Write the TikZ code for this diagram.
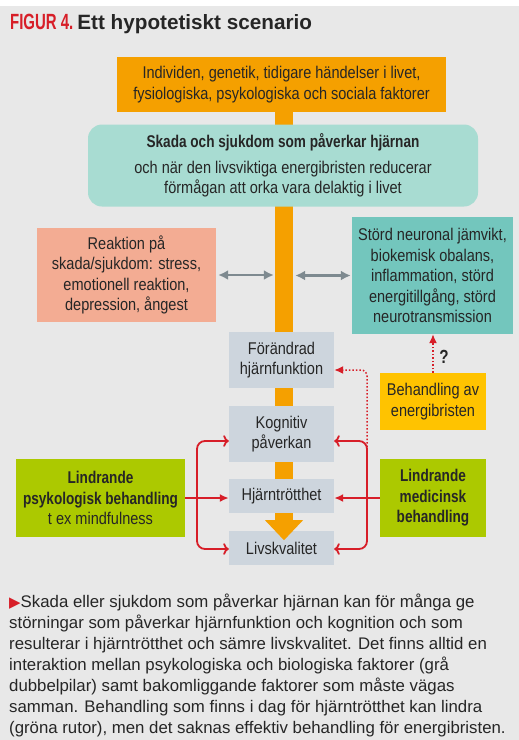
\documentclass[tikz,border=0pt]{standalone}
\usepackage{fontspec}
\setmainfont{Liberation Sans}
\newfontfamily\condfont[FakeStretch=0.855,BoldFeatures={FakeStretch=0.8}]{Liberation Sans}
\newfontfamily\figfont[FakeStretch=0.68]{Liberation Sans Bold}
\newfontfamily\symfont{DejaVu Sans}
\usetikzlibrary{arrows.meta}

\definecolor{bggray}{HTML}{E8E8E8}
\definecolor{barorange}{HTML}{F5A000}
\definecolor{tealL}{HTML}{A8DCD2}
\definecolor{tealD}{HTML}{73C6BD}
\definecolor{boxsalmon}{HTML}{F3AC93}
\definecolor{hubgray}{HTML}{CDD5DD}
\definecolor{boxyellow}{HTML}{FFC300}
\definecolor{boxgreen}{HTML}{ACC900}
\definecolor{arrowred}{HTML}{D71E28}
\definecolor{arrowgray}{HTML}{7E8A90}
\definecolor{txtdark}{HTML}{262626}

\tikzstyle{box}=[rectangle,inner sep=0pt,align=center,text=txtdark,font=\condfont\fontsize{17pt}{20.5pt}\selectfont]
\tikzstyle{hub}=[box,fill=hubgray,minimum width=105pt]
\tikzstyle{cure}=[box,fill=boxgreen,minimum height=78pt]
\tikzstyle{red arrow}=[draw,line width=1.8pt,arrowred,-{Latex[length=9pt,width=8pt]}]
\tikzstyle{red dots}=[draw,line width=1.5pt,arrowred,dotted,-{Latex[length=9pt,width=8pt]}]
\tikzstyle{gray arrow}=[draw,line width=2.5pt,arrowgray,{Latex[length=10pt,width=10pt]}-{Latex[length=10pt,width=10pt]},shorten <=2pt,shorten >=1pt]

\begin{document}
\begin{tikzpicture}[x=1pt,y=-1pt]
	\useasboundingbox (0,0) rectangle (519,740);
	\fill[white] (0,0) rectangle (519,740);
	\fill[bggray] (0,6) rectangle (519,740);
	% title
	\node[anchor=base west,inner sep=0pt,text=txtdark] (title) at (10,29)
		{{\figfont\fontsize{22pt}{22pt}\selectfont\color{arrowred}FIGUR 4.}\hspace{4pt}{\bfseries\fontsize{20.7pt}{22pt}\selectfont Ett hypotetiskt scenario}};
	% the orange stem behind the boxes
	\node[fill=barorange,minimum width=18pt,minimum height=408pt,inner sep=0pt] (stam) at (284,316) {};
	% boxes
	\node[box,fill=barorange,minimum width=329pt,minimum height=55pt] (indiv) at (281.5,84.5)
		{Individen, genetik, tidigare händelser i livet,\\fysiologiska, psykologiska och sociala faktorer};
	\node[box,fill=tealL,rounded corners=14pt,minimum width=390pt,minimum height=82pt] (skada) at (283,165.5)
		{\bfseries Skada och sjukdom som påverkar hjärnan\\[5pt]och när den livsviktiga energibristen reducerar\\förmågan att orka vara delaktig i livet};
	\node[box,fill=boxsalmon,minimum width=179pt,minimum height=94pt] (reak) at (126.5,275)
		{Reaktion på\\skada/sjukdom: stress,\\emotionell reaktion,\\depression, ångest};
	\node[box,fill=tealD,minimum width=161pt,minimum height=117pt] (stord) at (432.5,275.5)
		{Störd neuronal jämvikt,\\biokemisk obalans,\\inflammation, störd\\energitillgång, störd\\neurotransmission};
	\node[hub,minimum height=56pt] (forand) at (281.5,360) {Förändrad\\hjärnfunktion};
	\node[hub,minimum height=56pt] (kog) at (281.5,434) {Kognitiv\\påverkan};
	\node[hub,minimum height=34pt] (trott) at (281.5,496) {Hjärntrötthet};
	\node[hub,minimum height=34pt] (liv) at (281.5,548) {Livskvalitet};
	\node[box,fill=boxyellow,minimum width=106pt,minimum height=57pt] (beh) at (433,401.5) {Behandling av\\energibristen};
	\node[cure,minimum width=169pt] (psyk) at (100.5,498) {\bfseries Lindrande\\\bfseries psykologisk behandling\\t ex mindfulness};
	\node[cure,minimum width=106pt] (medi) at (433,498) {\bfseries Lindrande\\\bfseries medicinsk\\\bfseries behandling};
	% head of the stem
	\fill[barorange] ([xshift=-19pt]stam.south) -- ([xshift=19pt]stam.south) -- ([yshift=-20pt]stam.south) -- cycle;
	% grey double arrows
	\path[gray arrow] (reak.east) to (reak.east -| stam.west);
	\path[gray arrow] (stam.east |- stord.west) to (stord.west);
	% red arrows
	\coordinate (lbr) at (197,498);
	\coordinate (rbr) at (367,498);
	\coordinate (dotfoot) at (367,447);
	\foreach \source/ \dest in {psyk.east/trott.west, medi.west/trott.east}
		\path[red arrow] (\source) to (\source -| \dest);
	\path[red arrow,<->,rounded corners=8pt] ([yshift=-7pt]kog.west) -| (lbr) |- ([yshift=-1pt]liv.west);
	\path[red arrow,<->,rounded corners=8pt] ([yshift=-7pt]kog.east) -| (rbr) |- ([yshift=-1pt]liv.east);
	\path[red dots,rounded corners=6pt] (dotfoot) |- ([yshift=-10pt]forand.east);
	\path[red dots] (beh.north) to (beh.north |- stord.south);
	\node[text=txtdark,font=\condfont\bfseries\fontsize{19pt}{19pt}\selectfont,inner sep=0pt] (qmark) at (444,357) {?};
	% caption
	\node[anchor=north west,align=left,inner sep=0pt,text=txtdark,font=\fontsize{16.8pt}{21pt}\selectfont] (caption) at (9,594)
		{{\symfont\fontsize{15pt}{15pt}\selectfont\color{arrowred}▶}Skada eller sjukdom som påverkar hjärnan kan för många ge\\
		störningar som påverkar hjärnfunktion och kognition och som\\
		resulterar i hjärntrötthet och sämre livskvalitet. Det finns alltid en\\
		interaktion mellan psykologiska och biologiska faktorer (grå\\
		dubbelpilar) samt bakomliggande faktorer som måste vägas\\
		samman. Behandling som finns i dag för hjärntrötthet kan lindra\\
		(gröna rutor), men det saknas effektiv behandling för energibristen.};
\end{tikzpicture}
\end{document}
